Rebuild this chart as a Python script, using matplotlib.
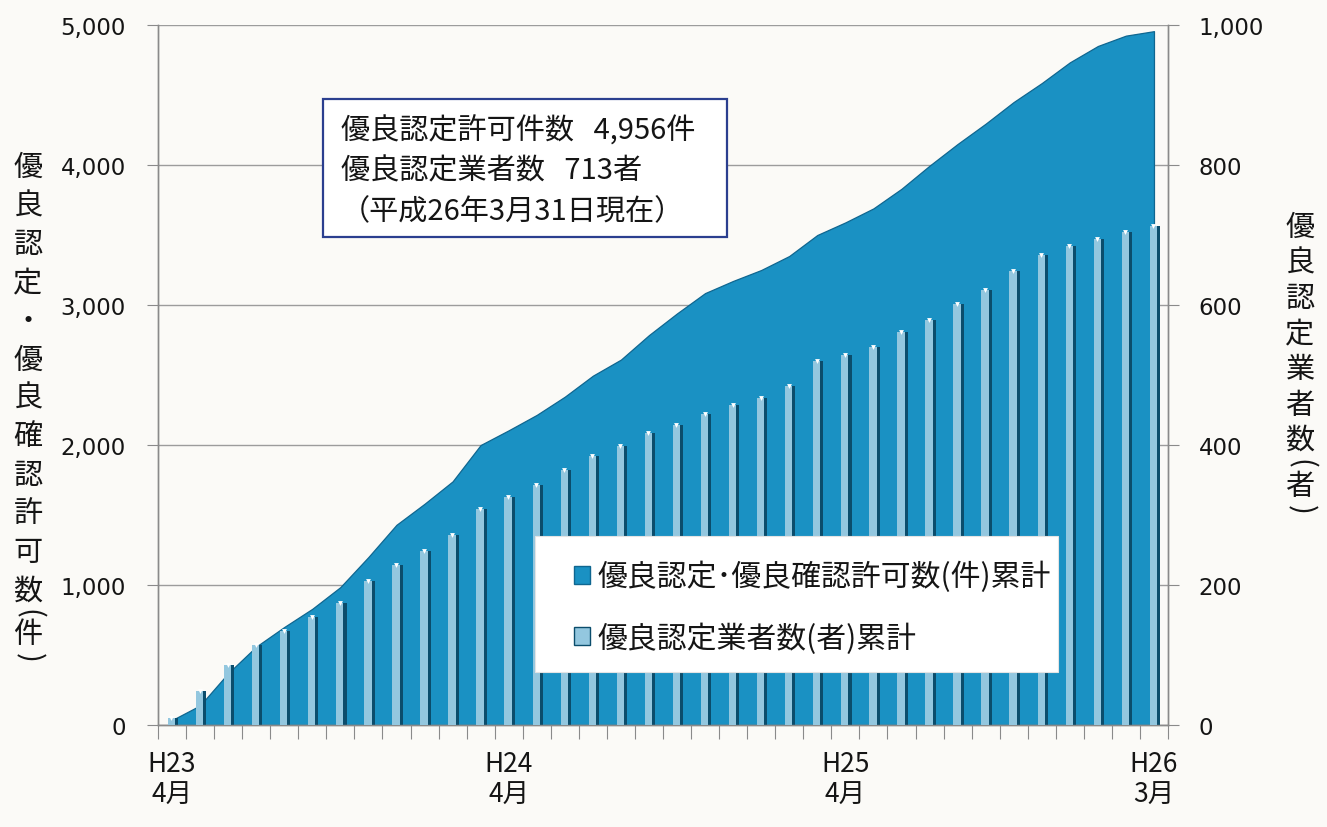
import matplotlib
matplotlib.use("Agg")
import matplotlib.pyplot as plt
import numpy as np
from matplotlib.patches import Patch, Rectangle

# ---------------- data ----------------
months = [f"H{23 + (i + 3) // 12}-{(i + 3) % 12 + 1}" for i in range(36)]  # H23-4 ... H26-3
permits_cum = [35, 140, 370, 560, 700, 830, 985, 1200, 1430, 1580, 1740, 2000,
               2105, 2215, 2345, 2495, 2610, 2785, 2940, 3085, 3172, 3250, 3350, 3500,
               3590, 3690, 3830, 3995, 4150, 4295, 4450, 4585, 4733, 4850, 4924, 4956]
firms_cum = [10, 48, 86, 114, 135, 154, 174, 206, 229, 248, 271, 309,
             326, 343, 365, 384, 398, 417, 429, 444, 457, 467, 485, 520,
             528, 540, 561, 578, 601, 621, 648, 671, 685, 694, 704, 713]
xtick_pos = [0, 12, 24, 35]
xtick_labels = ["H23\n4月", "H24\n4月", "H25\n4月", "H26\n3月"]
left_ticks = [0, 1000, 2000, 3000, 4000, 5000]
right_ticks = [0, 200, 400, 600, 800, 1000]
legend_labels = ["優良認定･優良確認許可数(件)累計", "優良認定業者数(者)累計"]
note_lines = ["優良認定許可件数   4,956件", "優良認定業者数   713者", "（平成26年3月31日現在）"]
left_label = "優良認定・優良確認許可数(件)"
right_label = "優良認定業者数(者)"

# ---------------- style ----------------
BG = "#fbfaf7"
AREA = "#1a91c3"
AREA_EDGE = "#0f6690"
LIGHT = "#93c7df"
DARK = "#0b4d6c"
GRID = "#9c9c9c"
SPINE = "#8a8a8a"
TXT = "#151515"
JP = ["Noto Sans CJK JP", "DejaVu Sans"]
plt.rcParams["font.family"] = JP

W, H = 1327, 828
fig = plt.figure(figsize=(W / 100, H / 100), dpi=100, facecolor=BG)
ax = fig.add_axes([158 / W, 1 - 726 / H, (1168 - 158) / W, 700 / H])
ax.set_facecolor(BG)
ax2 = ax.twinx()

x = np.arange(len(months))
ax.fill_between(x, 0, permits_cum, facecolor=AREA, edgecolor=AREA_EDGE, linewidth=0.9, zorder=2)

ax2.bar(x + 0.08, firms_cum, width=0.28, color=DARK, zorder=2, linewidth=0)
ax2.bar(x - 0.02, firms_cum, width=0.26, color=LIGHT, zorder=3, linewidth=0)
ax2.scatter(x - 0.02, firms_cum, marker="v", s=12, color="white", zorder=4, linewidths=0)

ax.set_xlim(-0.5, len(months) - 0.5)
ax.set_ylim(0, 5000)
ax2.set_ylim(0, 1000)

ax.set_yticks(left_ticks)
ax.set_yticklabels([f"{v:,}" for v in left_ticks], family="DejaVu Sans", fontsize=16.5, color=TXT)
ax2.set_yticks(right_ticks)
ax2.set_yticklabels([f"{v:,}" for v in right_ticks], family="DejaVu Sans", fontsize=16.5, color=TXT)
ax.yaxis.grid(True, color=GRID, linewidth=1)
ax.set_axisbelow(True)

ax.set_xticks(np.arange(-0.5, len(months), 1))
ax.set_xticklabels([])
ax.set_xticks(xtick_pos, minor=True)
ax.set_xticklabels(xtick_labels, minor=True, fontsize=19, color=TXT, linespacing=1.2)
ax.tick_params(axis="x", which="major", length=10, color=SPINE, direction="out")
ax.tick_params(axis="x", which="minor", length=0, pad=18)
ax.tick_params(axis="y", length=8, color=SPINE, pad=15)
ax2.tick_params(axis="y", length=8, color=SPINE, pad=14)

for a in (ax, ax2):
    a.spines["top"].set_visible(False)
    for s in ("left", "right", "bottom"):
        a.spines[s].set_color(SPINE)
        a.spines[s].set_linewidth(1)

# legend: white panel + frameless legend
fig.add_artist(Rectangle((535 / W, 1 - 673 / H), (1058 - 535) / W, (673 - 537) / H,
                         transform=fig.transFigure, facecolor="white", edgecolor="#e4e4e4", linewidth=0.8))
handles = [Patch(facecolor=AREA, edgecolor=AREA_EDGE), Patch(facecolor=LIGHT, edgecolor=DARK)]
leg = fig.legend(handles, legend_labels, loc="upper left", bbox_to_anchor=(574 / W, 1 - 562 / H),
                 bbox_transform=fig.transFigure, fontsize=21.5, handlelength=0.55, handleheight=0.55,
                 handletextpad=0.25, labelspacing=1.0, borderpad=0, borderaxespad=0,
                 frameon=False)
for t in leg.get_texts():
    t.set_color(TXT)
leg.set_zorder(6)

# note box
fig.add_artist(Rectangle((323 / W, 1 - 238 / H), (727 - 323) / W, (238 - 100) / H,
                         transform=fig.transFigure, facecolor="white", edgecolor="#2b3f8f", linewidth=1.6))
note_y = [131, 171, 212]
for line, yy in zip(note_lines, note_y):
    fig.text(341 / W, 1 - yy / H, line, fontsize=21, color=TXT, va="center", ha="left")

# vertical axis titles
def vertical_label(text, xc, y0, step, paren_step, fs):
    y = y0
    prev_paren = False
    for k, ch in enumerate(text):
        if k > 0:
            y += paren_step if (ch in "()" or prev_paren) else step
        rot = -90 if ch in "()" else 0
        fig.text(xc / W, 1 - y / H, ch, fontsize=fs, color=TXT, ha="center", va="center", rotation=rot)
        prev_paren = ch in "()"

vertical_label(left_label, 28, 168, 38.5, 22, 21)
vertical_label(right_label, 1300, 228, 35.5, 23, 21)

fig.savefig("out.png", dpi=100, facecolor=BG)
